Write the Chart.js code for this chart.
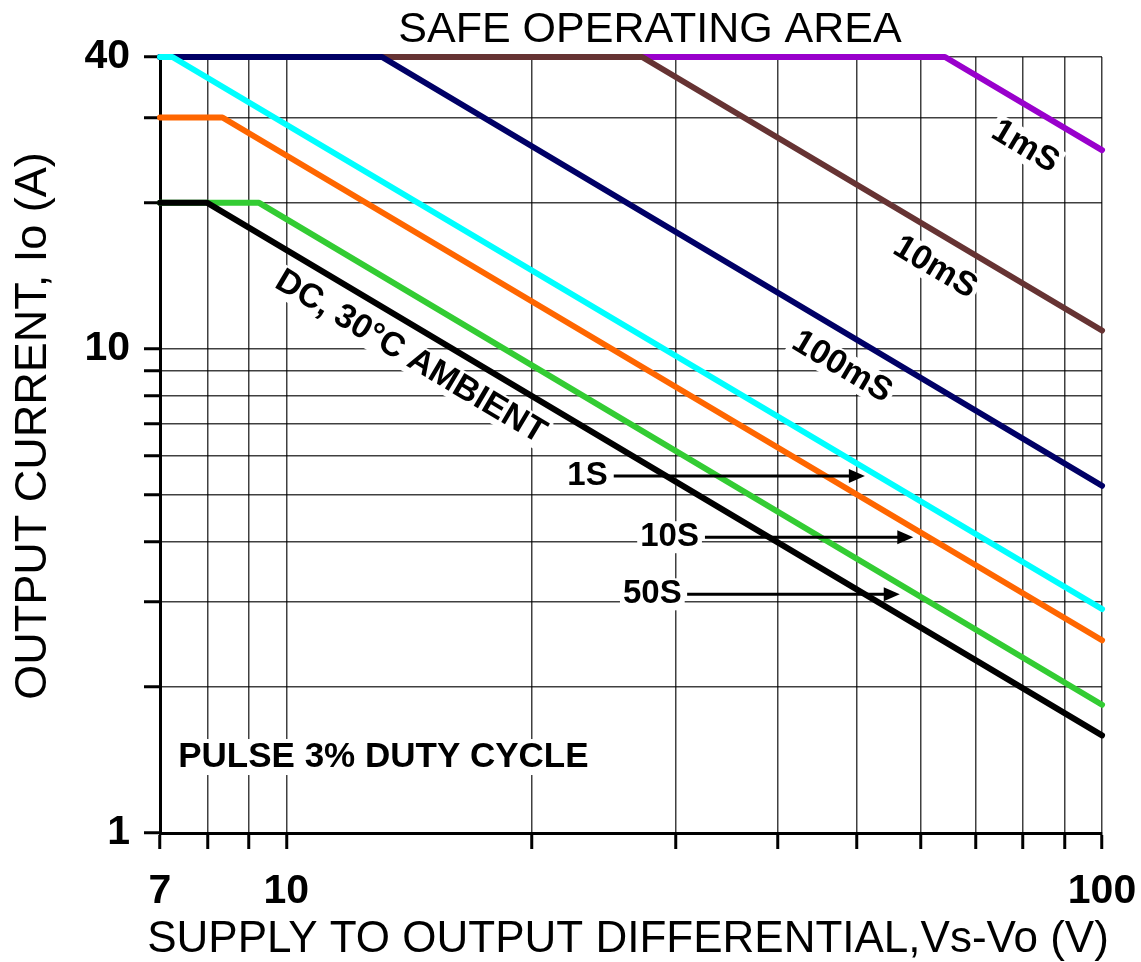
<!DOCTYPE html>
<html>
<head>
<meta charset="utf-8">
<script src="https://cdn.jsdelivr.net/npm/chart.js@4.4.1/dist/chart.umd.min.js"></script>
<style>
  html, body { margin: 0; padding: 0; background: #fff; }
  #wrap { width: 1141px; height: 962px; }
</style>
</head>
<body>
<div id="wrap"><canvas id="soa" width="1141" height="962"></canvas></div>
<script>
// axis gridlines and labelled ticks
var xGrid = [7, 8, 9, 10, 20, 30, 40, 50, 60, 70, 80, 90, 100];
var xLabels = [7, 10, 100];
var yGrid = [1, 2, 3, 4, 5, 6, 7, 8, 9, 10, 20, 30, 40];
var yLabels = [1, 10, 40];

// curve breakpoints (V, A)
var dcX = [7, 8, 100],      dcY = [20, 20, 1.59];
var s50X = [7, 9.26, 100],  s50Y = [20, 20, 1.84];
var s10X = [7, 8.35, 100],  s10Y = [30, 30, 2.5];
var s1X = [7, 7.25, 100],   s1Y = [40, 40, 2.9];
var ms100X = [7, 13.1, 100], ms100Y = [40, 40, 5.21];
var ms10X = [7, 27.3, 100],  ms10Y = [40, 40, 10.9];
var ms1X = [7, 64.2, 100],   ms1Y = [40, 40, 25.7];

// annotations: text, x, y (data units), angle
var rotLabels = [
  ['DC, 30\u00B0C AMBIENT', 14.2, 9.6, 30.7],
  ['100mS', 48.0, 9.16, 30.7],
  ['10mS', 62.4, 14.7, 30.7],
  ['1mS', 80.5, 26.1, 30.7]
];
// arrow labels: text, label x, y, arrow start x, arrow tip x
var arrowLabels = [
  ['1S', 23.4, 5.46, 25.2, 51.2],
  ['10S', 29.5, 4.08, 32.6, 58.7],
  ['50S', 28.1, 3.11, 31.0, 56.5]
];
var noteText = 'PULSE 3% DUTY CYCLE';
var noteX = 7.37, noteY = 1.435;

var FONT = 'Arial, "Liberation Sans", sans-serif';

function pts(xs, ys) {
  var out = [];
  for (var i = 0; i < xs.length; i++) out.push({x: xs[i], y: ys[i]});
  return out;
}

function series(xs, ys, color) {
  return {
    data: pts(xs, ys),
    borderColor: color,
    backgroundColor: color,
    borderWidth: 6,
    pointRadius: 0,
    showLine: true,
    borderCapStyle: 'round',
    borderJoinStyle: 'round',
    clip: 8
  };
}

// first dataset is drawn on top
var datasets = [
  series(dcX, dcY, '#000000'),
  series(s50X, s50Y, '#33cc33'),
  series(s10X, s10Y, '#ff6600'),
  series(s1X, s1Y, '#00ffff'),
  series(ms100X, ms100Y, '#000066'),
  series(ms10X, ms10Y, '#663333'),
  series(ms1X, ms1Y, '#9900cc')
];

function boxText(ctx, text, x, y) {
  var w = ctx.measureText(text).width;
  ctx.fillStyle = '#fff';
  ctx.fillRect(x - w / 2 - 3, y - 16, w + 6, 32);
  ctx.fillStyle = '#000';
  ctx.fillText(text, x, y);
}

var annotations = {
  id: 'annotations',
  afterDatasetsDraw: function (chart) {
    var ctx = chart.ctx;
    var xs = chart.scales.x, ys = chart.scales.y;
    ctx.save();
    ctx.textAlign = 'center';
    ctx.textBaseline = 'middle';

    ctx.font = 'bold 34px ' + FONT;
    rotLabels.forEach(function (l) {
      ctx.save();
      ctx.translate(xs.getPixelForValue(l[1]), ys.getPixelForValue(l[2]));
      ctx.rotate(l[3] * Math.PI / 180);
      boxText(ctx, l[0], 0, 0);
      ctx.restore();
    });

    arrowLabels.forEach(function (l) {
      var py = ys.getPixelForValue(l[2]);
      var x0 = xs.getPixelForValue(l[3]);
      var x1 = xs.getPixelForValue(l[4]);
      ctx.font = 'bold 33px ' + FONT;
      boxText(ctx, l[0], xs.getPixelForValue(l[1]), py);
      ctx.strokeStyle = '#000';
      ctx.lineWidth = 3;
      ctx.beginPath();
      ctx.moveTo(x0, py);
      ctx.lineTo(x1 - 12, py);
      ctx.stroke();
      ctx.fillStyle = '#000';
      ctx.beginPath();
      ctx.moveTo(x1, py);
      ctx.lineTo(x1 - 16, py - 7);
      ctx.lineTo(x1 - 16, py + 7);
      ctx.closePath();
      ctx.fill();
    });

    ctx.font = 'bold 35px ' + FONT;
    ctx.textAlign = 'left';
    var nx = xs.getPixelForValue(noteX), ny = ys.getPixelForValue(noteY);
    var nw = ctx.measureText(noteText).width;
    ctx.fillStyle = '#fff';
    ctx.fillRect(nx - 4, ny - 18, nw + 8, 36);
    ctx.fillStyle = '#000';
    ctx.fillText(noteText, nx, ny);

    // titles
    ctx.textAlign = 'center';
    ctx.font = '43px ' + FONT;
    ctx.fillText('SAFE OPERATING AREA', 650, 30);
    ctx.font = '44px ' + FONT;
    ctx.fillText('SUPPLY TO OUTPUT DIFFERENTIAL,Vs-Vo (V)', 628, 940);
    ctx.save();
    ctx.translate(34, 426);
    ctx.rotate(-Math.PI / 2);
    ctx.font = '45px ' + FONT;
    ctx.fillText('OUTPUT CURRENT, Io (A)', 0, 0);
    ctx.restore();
    ctx.restore();
  }
};

var config = {
  type: 'scatter',
  data: {datasets: datasets},
  options: {
    responsive: false,
    animation: false,
    events: [],
    layout: {padding: {top: 57, right: 39, left: 0, bottom: 0}},
    plugins: {legend: {display: false}, tooltip: {enabled: false}},
    scales: {
      x: {
        type: 'logarithmic',
        min: 7,
        max: 100,
        afterBuildTicks: function (scale) {
          scale.ticks = xGrid.map(function (v) { return {value: v}; });
        },
        afterFit: function (scale) {
          scale.height = 129;
          scale.paddingLeft = 0;
          scale.paddingRight = 0;
        },
        ticks: {
          autoSkip: false,
          maxRotation: 0,
          padding: 18,
          color: '#000',
          font: {family: FONT, size: 41, weight: 'bold'},
          callback: function (v) { return xLabels.indexOf(v) >= 0 ? String(v) : ''; }
        },
        grid: {color: 'rgba(0,0,0,0.75)', lineWidth: 1.5, tickLength: 16, tickWidth: 3, tickColor: '#000'},
        border: {color: '#000', width: 3}
      },
      y: {
        type: 'logarithmic',
        min: 1,
        max: 40,
        afterBuildTicks: function (scale) {
          scale.ticks = yGrid.map(function (v) { return {value: v}; });
        },
        afterFit: function (scale) {
          scale.width = 160;
          scale.paddingTop = 0;
          scale.paddingBottom = 0;
        },
        ticks: {
          autoSkip: false,
          padding: 14,
          color: '#000',
          font: {family: FONT, size: 41, weight: 'bold'},
          callback: function (v) { return yLabels.indexOf(v) >= 0 ? String(v) : ''; }
        },
        grid: {color: 'rgba(0,0,0,0.75)', lineWidth: 1.5, tickLength: 16, tickWidth: 3, tickColor: '#000'},
        border: {color: '#000', width: 3}
      }
    }
  },
  plugins: [annotations]
};

var soaChart = new Chart(document.getElementById('soa'), config);
</script>
</body>
</html>
